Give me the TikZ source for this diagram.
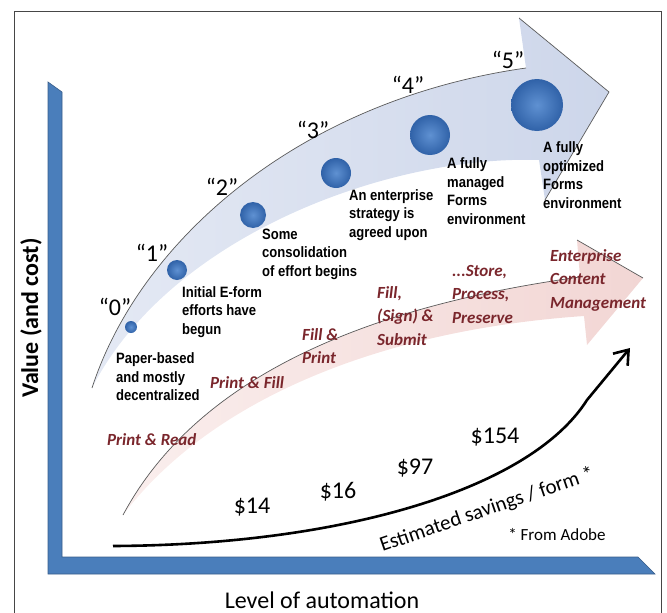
\documentclass[tikz,border=0pt]{standalone}
\usepackage{fontspec}
\setmainfont{Carlito}
\newfontfamily\descfont{Liberation Sans}
\usetikzlibrary{arrows.meta}
\definecolor{axisblue}{RGB}{74,126,187}
\definecolor{axisdark}{RGB}{56,93,138}
\definecolor{bluearrow}{RGB}{205,214,234}
\definecolor{bluelight}{RGB}{228,233,244}
\definecolor{pinkarrow}{RGB}{242,214,212}
\definecolor{pinklight}{RGB}{250,238,237}
\definecolor{edgegray}{RGB}{90,90,90}
\definecolor{redtxt}{RGB}{122,38,44}
\definecolor{dotin}{RGB}{95,145,210}
\definecolor{dotout}{RGB}{48,98,168}
\definecolor{bordergray}{RGB}{70,70,70}
\begin{document}
\begin{tikzpicture}[x=1pt,y=-1pt,
  desc/.style={font=\descfont\bfseries\fontsize{15}{18.5}\selectfont, align=left, anchor=west, xscale=0.87, inner sep=0pt},
  redlbl/.style={font=\bfseries\itshape\fontsize{17}{23.5}\selectfont, text=redtxt, align=left, anchor=west, inner sep=0pt},
  qlbl/.style={font=\fontsize{24}{24}\selectfont, inner sep=0pt},
  money/.style={font=\fontsize{24}{24}\selectfont, inner sep=0pt},
  dot/.style={circle, inner sep=0pt, inner color=dotin, outer color=dotout},
  savings/.style={line width=2.6, -{Straight Barb[length=13pt,width=19pt]}},
  edge/.style={draw=edgegray, line width=0.7}
]
\useasboundingbox (0,0) rectangle (667,613);
% frame
\draw[bordergray, line width=1] (14,613) -- (14,11) -- (661,11) -- (661,613);
% axes
\fill[axisblue, draw=axisdark, line width=0.6] (48,82) -- (62,92) -- (62,557) -- (638,557) -- (655,574) -- (48,574) -- cycle;
% pink arrow
\shade[left color=pinklight, right color=pinkarrow]
  (123,515) .. controls (190,390) and (340,310) .. (580,277) -- (577,240) -- (643,278) -- (587,345) -- (584,316)
  .. controls (380,330) and (210,400) .. (123,515) -- cycle;
\draw[edge] (123,515) .. controls (190,390) and (340,310) .. (580,277);
\draw[edge] (577,240) -- (643,278);
% blue arrow
\shade[left color=bluelight, right color=bluearrow]
  (92,388) .. controls (140,240) and (300,100) .. (526,68) -- (519,18) -- (609,92) -- (545,200) -- (539,160)
  .. controls (390,155) and (170,235) .. (92,388) -- cycle;
\draw[edge] (92,388) .. controls (140,240) and (300,100) .. (526,68);
\draw[edge] (519,18) -- (609,92) -- (545,200);
% dots
\node[dot, minimum size=12] (d0) at (131,327) {};
\node[dot, minimum size=20] (d1) at (177,270) {};
\node[dot, minimum size=26] (d2) at (253,215) {};
\node[dot, minimum size=30] (d3) at (336,173) {};
\node[dot, minimum size=40] (d4) at (430,135) {};
\node[dot, minimum size=52] (d5) at (537,105) {};
% stage labels
\node[qlbl] (q0) at (115,307) {“0”};
\node[qlbl] (q1) at (152,253) {“1”};
\node[qlbl] (q2) at (222,187) {“2”};
\node[qlbl] (q3) at (313,130) {“3”};
\node[qlbl] (q4) at (408,85) {“4”};
\node[qlbl] (q5) at (508,60) {“5”};
% descriptions
\node[desc] (t0) at (116,377) {Paper-based\\and mostly\\decentralized};
\node[desc] (t1) at (182,312) {Initial E-form\\efforts have\\begun};
\node[desc] (t2) at (262,254) {Some\\consolidation\\of effort begins};
\node[desc] (t3) at (349,215) {An enterprise\\strategy is\\agreed upon};
\node[desc] (t4) at (447,191) {A fully\\managed\\Forms\\environment};
\node[desc] (t5) at (543,175) {A fully\\optimized\\Forms\\environment};
% red labels
\node[redlbl] (r0) at (107,440) {Print \& Read};
\node[redlbl] (r1) at (210,383) {Print \& Fill};
\node[redlbl] (r2) at (302,346) {Fill \&\\Print};
\node[redlbl] (r3) at (377,316) {Fill,\\(Sign) \&\\Submit};
\node[redlbl] (r4) at (452,294) {...Store,\\Process,\\Preserve};
\node[redlbl] (r5) at (550,280) {Enterprise\\Content\\Management};
% savings curve
\coordinate (s0) at (113,546);
\coordinate (s1) at (587,400);
\coordinate (s2) at (630,348);
\draw[savings] (s0) .. controls (340,545) and (530,490) .. (s1) -- (s2);
\node[money] (m0) at (252,507) {\$14};
\node[money] (m1) at (338,492) {\$16};
\node[money] (m2) at (415,468) {\$97};
\node[money] (m3) at (495,437) {\$154};
\node[font=\fontsize{21}{21}\selectfont, rotate=19, inner sep=0pt] (est) at (487,510) {Estimated savings / form *};
\node[font=\fontsize{17}{17}\selectfont, inner sep=0pt] (src) at (557,535) {* From Adobe};
% axis titles
\node[font=\bfseries\fontsize{24}{24}\selectfont, rotate=90, inner sep=0pt] (yl) at (31,318) {Value (and cost)};
\node[font=\fontsize{24}{24}\selectfont, anchor=base, inner sep=0pt] (xl) at (322,608) {Level of automation};
\end{tikzpicture}
\end{document}
